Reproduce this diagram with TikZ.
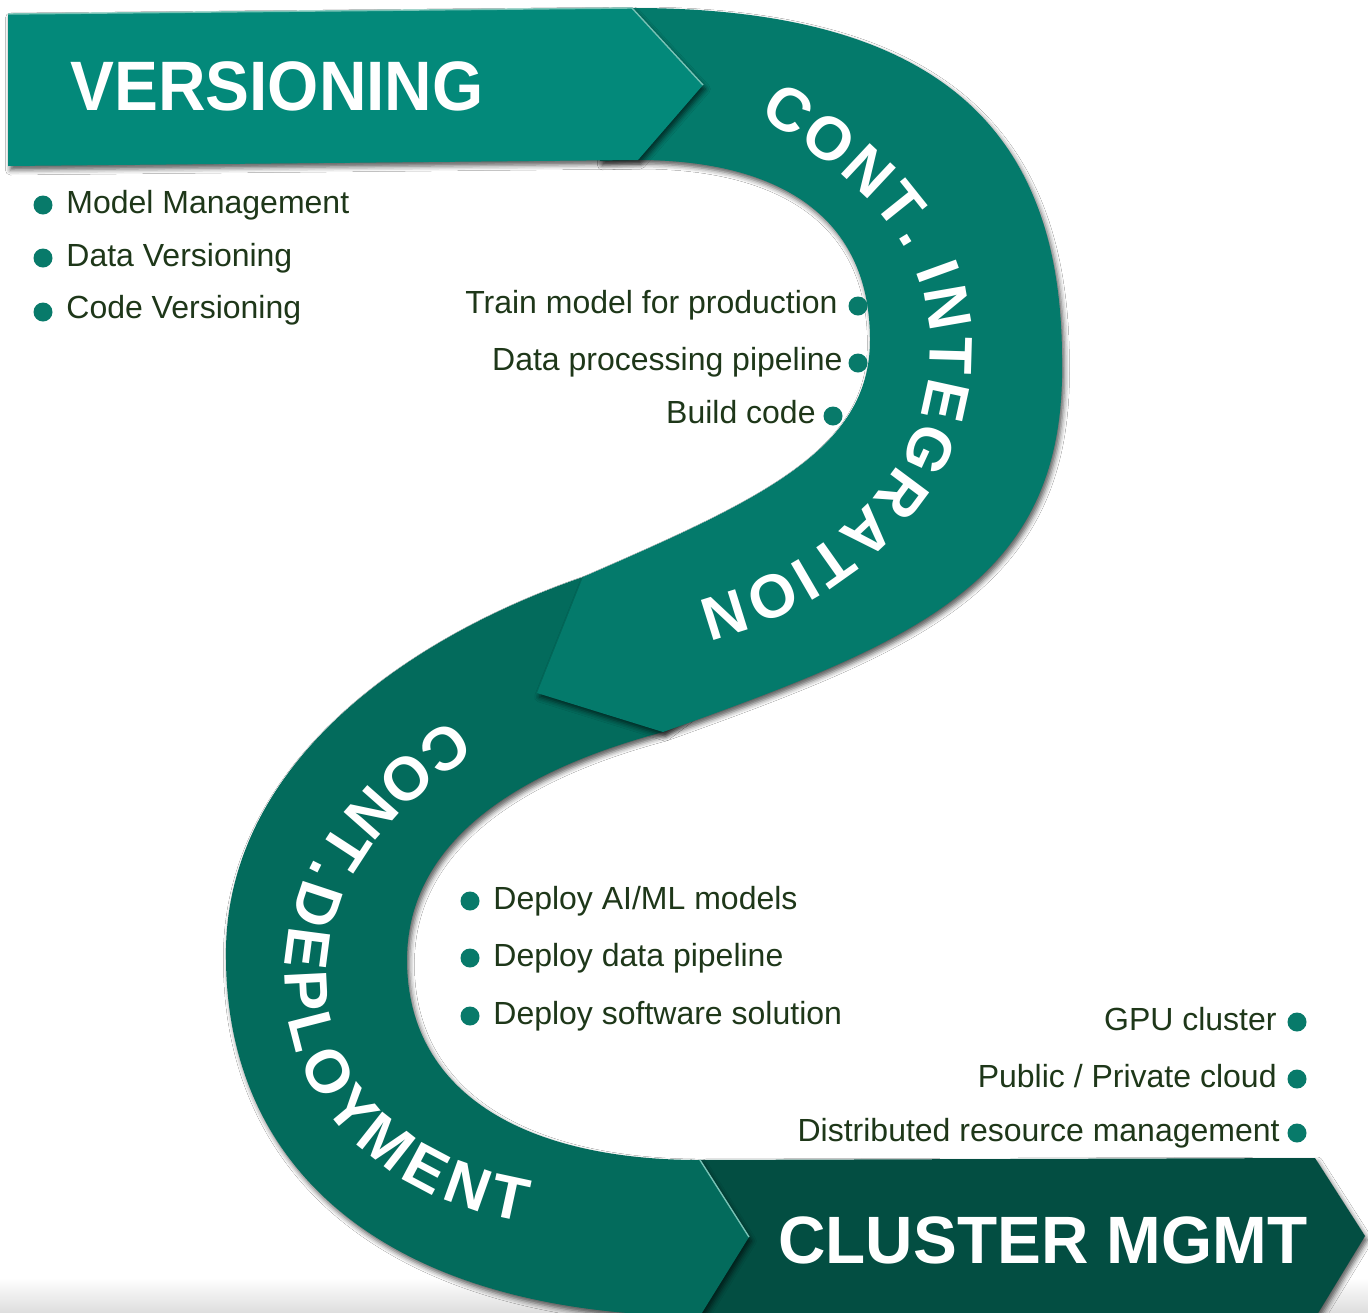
\documentclass[tikz,border=0pt]{standalone}
\usepackage{fontspec}
\setmainfont{Liberation Sans}
\usetikzlibrary{decorations.text,shadows.blur}
\definecolor{verscol}{RGB}{3,137,122}
\definecolor{cicol}{RGB}{4,122,107}
\definecolor{cdcol}{RGB}{3,107,92}
\definecolor{clcol}{RGB}{3,78,66}
\definecolor{itemtext}{RGB}{30,55,25}
\definecolor{dotcol}{RGB}{8,122,106}
\definecolor{edgelight}{RGB}{120,195,182}
\newcommand{\curvefont}{\bfseries\fontsize{30.5}{36}\selectfont}
\tikzset{
  band/.style={blur shadow={shadow xshift=1.2pt,shadow yshift=-2pt,shadow blur radius=2.5pt,shadow opacity=65}},
  title/.style={text=white,font=\fontsize{35}{40}\selectfont\bfseries,inner sep=0pt},
  item/.style={text=itemtext,font=\fontsize{16}{19}\selectfont,inner sep=0pt},
  dot/.style={circle,fill=dotcol,minimum size=9.5pt,inner sep=0pt},
  highlight/.style={draw=edgelight,line width=0.7pt,line join=round},
}
\begin{document}
\begin{tikzpicture}[x=0.5pt,y=-0.5pt]
\useasboundingbox (0,0) rectangle (1368,1312);
\clip (0,0) rectangle (1368,1312);
\fill[white] (0,0) rectangle (1368,1312);
% soft floor under the ribbon
\shade[top color=white,bottom color=black!13] (0,1278) rectangle (1368,1312);

% key points of the ribbon
\coordinate (vTL) at (8,14);
\coordinate (vTR) at (632,8);
\coordinate (vTip) at (703,85);
\coordinate (vBR) at (638,160);
\coordinate (vBL) at (8,166);
\coordinate (ciTipTop) at (583,577);
\coordinate (ciTip) at (537,693);
\coordinate (ciTipBot) at (663,732);
\coordinate (cdEndTop) at (700,1160);
\coordinate (cdTip) at (749,1237);
\coordinate (cdEndBot) at (700,1316);

% cluster management band
\fill[clcol,band] (690,1160) -- (1315,1158) -- (1365,1236) -- (1315,1318) -- (690,1318) -- cycle;

% continuous deployment band (lower loop)
\fill[cdcol,band] (650,566) -- (ciTipTop)
  .. controls (400,640) and (222,770) .. (226,960)
  .. controls (228,1180) and (400,1315) .. (cdEndBot)
  -- (cdTip) -- (cdEndTop)
  .. controls (520,1160) and (407,1090) .. (407,960)
  .. controls (407,840) and (520,770) .. (ciTipBot)
  -- (705,700) -- cycle;
\draw[highlight] (cdEndTop) -- (cdTip);

% continuous integration band (upper loop)
\fill[cicol,band] (600,9) -- (640,8)
  .. controls (950,10) and (1062,140) .. (1062,360)
  .. controls (1066,580) and (920,640) .. (ciTipBot)
  -- (ciTip) -- (ciTipTop)
  .. controls (760,500) and (870,450) .. (870,340)
  .. controls (870,210) and (770,160) .. (638,160)
  -- (600,161) -- cycle;

% versioning band
\fill[verscol,band] (vTL) -- (vTR) -- (vTip) -- (vBR) -- (vBL) -- cycle;
\draw[highlight] (vTL) -- (vTR) -- (vTip);

% band titles
\node[title,anchor=base west,xscale=0.94] (versioning) at (70,110) {VERSIONING};
\node[title,anchor=base west,xscale=0.98,font=\fontsize{33.5}{40}\selectfont\bfseries] (cluster) at (778,1263) {CLUSTER MGMT};

\path[decorate,decoration={text along path,text align={fit to path},
  text={|\color{white}\curvefont|CONT. INTEGRATION}}]
  (758,116) .. controls (880,190) and (935,260) .. (930,360)
  .. controls (925,480) and (820,570) .. (697,601);

\path[decorate,decoration={text along path,text align={fit to path},
  text={|\color{white}\curvefont|CONT.DEPLOYMENT}}]
  (452,719) .. controls (350,785) and (285,870) .. (285,980)
  .. controls (285,1110) and (390,1200) .. (524,1222);

% versioning items
\node[dot] (vd1) at (43,205) {};
\node[dot] (vd2) at (43,258) {};
\node[dot] (vd3) at (43,312) {};
\node[item,anchor=base west] (vi1) at (66,213) {Model Management};
\node[item,anchor=base west] (vi2) at (66,266) {Data Versioning};
\node[item,anchor=base west] (vi3) at (66,318) {Code Versioning};

% integration items
\node[dot] (cd1) at (858,306) {};
\node[dot] (cd2) at (858,363) {};
\node[dot] (cd3) at (833,416) {};
\node[item,anchor=base east] (ci1) at (838,313) {Train model for production};
\node[item,anchor=base east] (ci2) at (843,370) {Data processing pipeline};
\node[item,anchor=base east] (ci3) at (816,423) {Build code};

% deployment items
\node[dot] (dd1) at (470,901) {};
\node[dot] (dd2) at (470,958) {};
\node[dot] (dd3) at (470,1016) {};
\node[item,anchor=base west] (di1) at (493,909) {Deploy AI/ML models};
\node[item,anchor=base west] (di2) at (493,966) {Deploy data pipeline};
\node[item,anchor=base west] (di3) at (493,1024) {Deploy software solution};

% cluster items
\node[dot] (kd1) at (1297,1022) {};
\node[dot] (kd2) at (1297,1079) {};
\node[dot] (kd3) at (1297,1133) {};
\node[item,anchor=base east] (ki1) at (1277,1030) {GPU cluster};
\node[item,anchor=base east] (ki2) at (1277,1087) {Public / Private cloud};
\node[item,anchor=base east] (ki3) at (1280,1141) {Distributed resource management};
\end{tikzpicture}
\end{document}
